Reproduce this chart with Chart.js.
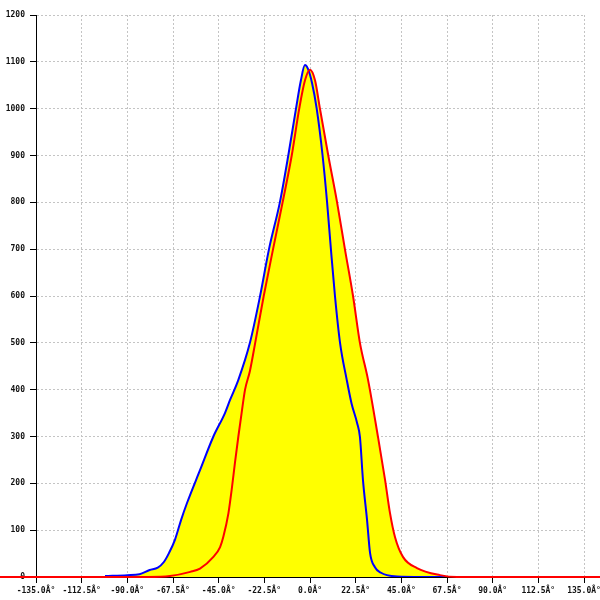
<!DOCTYPE html>
<html>
<head>
<meta charset="utf-8">
<script src="https://cdn.jsdelivr.net/npm/chart.js@4"></script>
<style>
  body { margin: 0; background: #fff; }
  #chart { display: block; }
</style>
</head>
<body>
<canvas id="chart" width="600" height="600"></canvas>
<script>
// angle (degrees) vs count, two series
var redAngles = [-160, -100, -80, -69, -59, -54.2, -47.6, -44.3, -42.7, -40.2, -38.6, -37, -35.3, -33.7, -32, -29.6, -27, -22.8, -18.2, -13.5, -9, -5.3, -2.5, 0, 2.5, 4.9, 9, 13.3, 17.2, 21.2, 24.6, 28.6, 33.5, 37, 39.4, 41.9, 45.8, 52.7, 64, 72.4, 150];
var redCounts = [0, 0, 0, 2, 11, 18, 43, 64, 86, 136, 186, 243, 300, 350, 400, 440, 500, 600, 700, 800, 900, 1000, 1060, 1083, 1060, 1000, 900, 801, 700, 600, 500, 421, 299, 207, 137, 85, 43, 19, 4, 0, 0];

var blueAngles = [-101, -90, -84, -79, -75, -72, -69.5, -66.5, -63.5, -60.6, -54.2, -47.6, -41.9, -39.4, -35.3, -29.6, -24.6, -20.2, -14.8, -10.7, -6.9, -4.5, -2.5, -1, 1, 3.3, 6.2, 8.4, 10.3, 12.3, 14.8, 18.1, 20.5, 23.2, 24.6, 26.1, 28.1, 29.6, 32, 35, 37.9, 42.9, 55, 66.5];
var blueCounts = [2, 4, 6, 15, 20, 32, 51, 80, 122, 158, 228, 300, 350, 378, 421, 500, 600, 700, 801, 900, 1000, 1060, 1093, 1085, 1055, 1000, 900, 801, 700, 600, 500, 421, 370, 329, 299, 207, 122, 51, 21, 9, 4, 1, 0, 0];

var xTicks = [-135, -112.5, -90, -67.5, -45, -22.5, 0, 22.5, 45, 67.5, 90, 112.5, 135];
var yTicks = [0, 100, 200, 300, 400, 500, 600, 700, 800, 900, 1000, 1100, 1200];

function toPoints(xs, ys) {
  return xs.map(function (x, i) { return { x: x, y: ys[i] }; });
}

var tickFont = { family: 'DejaVu Sans Mono', size: 8, weight: 'bold' };

var ctx = document.getElementById('chart').getContext('2d');
var chart = new Chart(ctx, {
  type: 'line',
  data: {
    datasets: [{
      label: 'red',
      data: toPoints(redAngles, redCounts),
      borderColor: '#ff0000',
      backgroundColor: '#ffff00',
      borderWidth: 2,
      fill: 'origin',
      pointRadius: 0,
      cubicInterpolationMode: 'monotone',
      clip: false
    }, {
      label: 'blue',
      data: toPoints(blueAngles, blueCounts),
      borderColor: '#0000ff',
      backgroundColor: '#ffff00',
      borderWidth: 2,
      fill: 'origin',
      pointRadius: 0,
      cubicInterpolationMode: 'monotone'
    }]
  },
  options: {
    responsive: false,
    animation: false,
    layout: { padding: { top: 15, right: 16, left: 0, bottom: 0 } },
    plugins: {
      legend: { display: false },
      tooltip: { enabled: false },
      filler: { drawTime: 'beforeDatasetsDraw' }
    },
    scales: {
      x: {
        type: 'linear',
        min: -135,
        max: 135,
        afterBuildTicks: function (s) { s.ticks = xTicks.map(function (v) { return { value: v }; }); },
        afterFit: function (s) { s.height = 23; s.paddingLeft = 0; s.paddingRight = 0; },
        ticks: {
          autoSkip: false,
          maxRotation: 0,
          padding: 3,
          color: '#111',
          font: tickFont,
          callback: function (v) { return v.toFixed(1) + 'Â°'; }
        },
        grid: { color: '#c4c4c4', tickColor: '#000', tickLength: 6, tickBorderDash: [] },
        border: { color: '#000', width: 1, dash: [2, 2] }
      },
      y: {
        min: 0,
        max: 1200,
        afterBuildTicks: function (s) { s.ticks = yTicks.map(function (v) { return { value: v }; }); },
        afterFit: function (s) { s.width = 36; s.paddingTop = 0; s.paddingBottom = 0; },
        ticks: {
          padding: 5,
          color: '#111',
          font: tickFont,
          callback: function (v) { return String(v); }
        },
        grid: { color: '#c4c4c4', tickColor: '#000', tickLength: 6, tickBorderDash: [] },
        border: { color: '#000', width: 1, dash: [2, 2] }
      }
    }
  }
});
</script>
</body>
</html>
